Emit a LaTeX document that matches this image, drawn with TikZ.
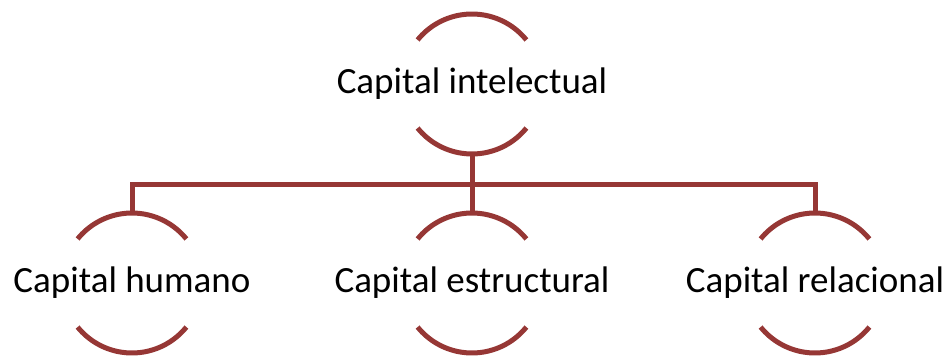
\documentclass[tikz,border=0pt]{standalone}
\usepackage{fontspec}
\setmainfont{Carlito}
\usepackage{xcolor}
\usepackage{tikz}
\usetikzlibrary{positioning, calc}

\definecolor{darkred}{RGB}{150,55,53}

\begin{document}
\begin{tikzpicture}[x=1pt, y=1pt,
  capital/.style={inner sep=0pt, font=\fontsize{37}{40}\selectfont},
  bracket/.style={draw=darkred, line width=5pt}]
\useasboundingbox (0,0) rectangle (948,-358);

% Nodes
\node[capital] (intel) at (472,-84) {Capital intelectual};
\node[capital] (humano) at (132,-283) {Capital humano};
\node[capital] (estruct) at (472,-283) {Capital estructural};
\node[capital] (relac) at (815,-283) {Capital relacional};

% Arcs round each node
\foreach \n in {intel, humano, estruct, relac} {
  \draw[bracket] ([shift={(39:70)}]\n.center) arc[start angle=39, end angle=141, radius=70];
  \draw[bracket] ([shift={(-39:70)}]\n.center) arc[start angle=-39, end angle=-141, radius=70];
}

% Connectors
\coordinate (bus) at (472,-185);
\draw[bracket] ([yshift=-70]intel.center) -- ([yshift=70]estruct.center);
\draw[bracket] ([yshift=70]humano.center) |- (bus) -| ([yshift=70]relac.center);
\end{tikzpicture}
\end{document}
